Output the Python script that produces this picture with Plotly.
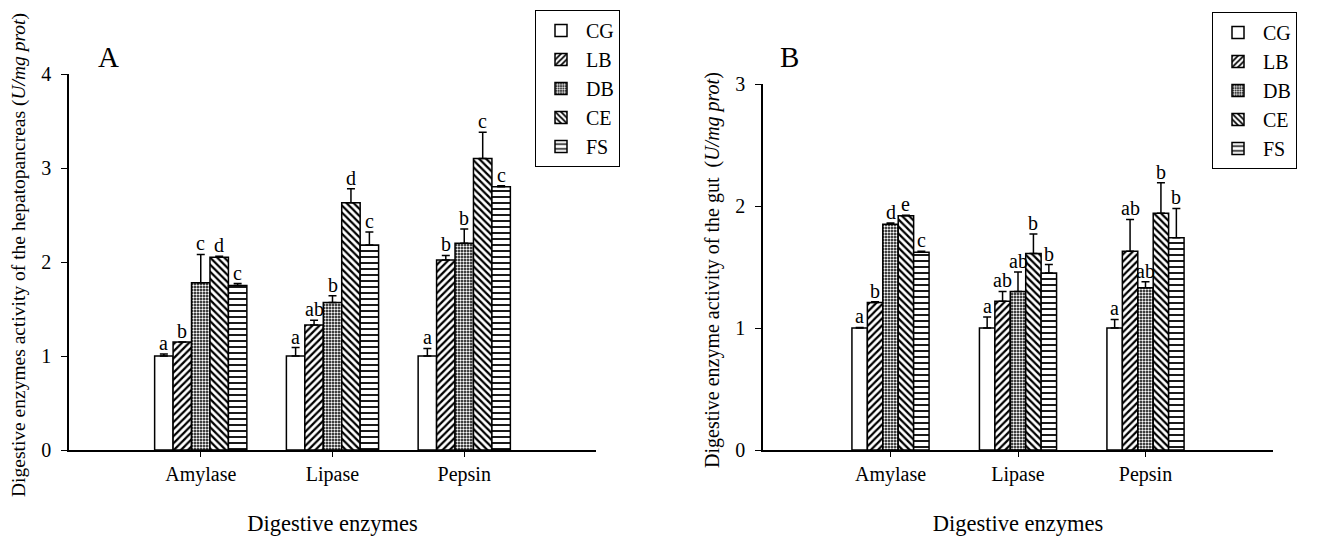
import plotly.graph_objects as go

enzymes = ["Amylase", "Lipase", "Pepsin"]
groups = ["CG", "LB", "DB", "CE", "FS"]

# Panel A: hepatopancreas
hep_means = {
    "CG": [1.00, 1.00, 1.00],
    "LB": [1.15, 1.33, 2.02],
    "DB": [1.78, 1.57, 2.20],
    "CE": [2.05, 2.63, 3.10],
    "FS": [1.75, 2.18, 2.80],
}
hep_err = {
    "CG": [0.02, 0.09, 0.08],
    "LB": [0.00, 0.05, 0.05],
    "DB": [0.30, 0.07, 0.15],
    "CE": [0.01, 0.15, 0.28],
    "FS": [0.02, 0.14, 0.01],
}
hep_letters = {
    "CG": ["a", "a", "a"],
    "LB": ["b", "ab", "b"],
    "DB": ["c", "b", "b"],
    "CE": ["d", "d", "c"],
    "FS": ["c", "c", "c"],
}

# Panel B: gut
gut_means = {
    "CG": [1.00, 1.00, 1.00],
    "LB": [1.21, 1.22, 1.63],
    "DB": [1.85, 1.30, 1.33],
    "CE": [1.92, 1.61, 1.94],
    "FS": [1.62, 1.45, 1.74],
}
gut_err = {
    "CG": [0.005, 0.09, 0.07],
    "LB": [0.005, 0.08, 0.26],
    "DB": [0.01, 0.16, 0.05],
    "CE": [0.005, 0.16, 0.25],
    "FS": [0.01, 0.07, 0.24],
}
gut_letters = {
    "CG": ["a", "a", "a"],
    "LB": ["b", "ab", "ab"],
    "DB": ["d", "ab", "ab"],
    "CE": ["e", "b", "b"],
    "FS": ["c", "b", "b"],
}

y_title_A = "Digestive enzymes activity of the hepatopancreas (<i>U/mg prot</i>)"
y_title_B = "Digestive enzyme activity of the gut  (<i>U/mg prot</i>)"
x_title = "Digestive enzymes"

FONT = "Liberation Serif"
W, H = 1326, 536
OX, OY = 8, 8  # page body margin compensation


def px(xp):
    return (xp - OX) / W


def py(yp):
    return 1 - (yp - OY) / H


patterns = {
    "CG": dict(shape=""),
    "LB": dict(shape="/", fgcolor="black", bgcolor="white", size=5, solidity=0.45, fgopacity=1),
    "DB": dict(shape=".", fgcolor="white", bgcolor="black", size=3, solidity=0.5, fgopacity=1),
    "CE": dict(shape="\\", fgcolor="black", bgcolor="white", size=5, solidity=0.45, fgopacity=1),
    "FS": dict(shape="-", fgcolor="black", bgcolor="white", size=6, solidity=0.3, fgopacity=1),
}

fig = go.Figure()
annotations = []


def add_panel(means, errs, letters, xa, ya, legend, bw):
    for j, g in enumerate(groups):
        off = -2.5 * bw + j * bw
        fig.add_trace(go.Bar(
            x=enzymes, y=means[g], name=g,
            xaxis=xa, yaxis=ya, legend=legend,
            width=bw, offset=off,
            marker=dict(color="white", line=dict(color="black", width=1.5),
                        pattern=patterns[g]),
            error_y=dict(type="data", array=errs[g], symmetric=False,
                         arrayminus=[0] * len(enzymes),
                         color="black", thickness=1.5, width=4),
        ))
        for i in range(len(enzymes)):
            annotations.append(dict(
                x=i + off + bw / 2, y=means[g][i] + errs[g][i],
                xref=xa, yref=ya, text=letters[g][i], showarrow=False,
                yanchor="bottom", yshift=-2,
                font=dict(family=FONT, size=20, color="black"),
            ))


add_panel(hep_means, hep_err, hep_letters, "x", "y", "legend", 0.14)
add_panel(gut_means, gut_err, gut_letters, "x2", "y2", "legend2", 0.121)

axis_common = dict(showline=True, linecolor="black", linewidth=1.5,
                   showgrid=False, zeroline=False, ticks="outside",
                   tickcolor="black", tickwidth=1.2,
                   tickfont=dict(family=FONT, size=20, color="black"))

legend_common = dict(xanchor="left", yanchor="top",
                     bordercolor="black", borderwidth=1, bgcolor="white",
                     font=dict(family=FONT, size=20), tracegroupgap=0,
                     itemwidth=40)

fig.update_layout(
    width=W, height=H,
    margin=dict(l=0, r=0, t=0, b=0),
    paper_bgcolor="white", plot_bgcolor="white",
    barmode="overlay",
    font=dict(family=FONT, color="black"),
    xaxis=dict(domain=[px(69), px(596)], range=[-1, 3], anchor="y",
               ticklen=5, automargin=False,
               title=dict(text=x_title, standoff=30,
                          font=dict(family=FONT, size=22.5)),
               **axis_common),
    yaxis=dict(domain=[py(450), py(74)], range=[0, 4], anchor="x",
               tickvals=[0, 1, 2, 3, 4], ticklen=6, ticklabelstandoff=6,
               automargin=False, **axis_common),
    xaxis2=dict(domain=[px(763), px(1273)], range=[-1, 3], anchor="y2",
                ticklen=5, automargin=False,
                title=dict(text=x_title, standoff=30,
                           font=dict(family=FONT, size=22.5)),
                **axis_common),
    yaxis2=dict(domain=[py(450), py(84)], range=[0, 3], anchor="x2",
                tickvals=[0, 1, 2, 3], ticklen=6, ticklabelstandoff=6,
                automargin=False, **axis_common),
    legend=dict(x=px(535), y=py(10), **legend_common),
    legend2=dict(x=px(1212), y=py(12), **legend_common),
    annotations=annotations + [
        dict(x=px(108), y=py(57), xref="paper", yref="paper", text="A",
             xanchor="center", yanchor="middle", showarrow=False,
             font=dict(family=FONT, size=29, color="black")),
        dict(x=px(789), y=py(57), xref="paper", yref="paper", text="B",
             xanchor="center", yanchor="middle", showarrow=False,
             font=dict(family=FONT, size=29, color="black")),
        dict(x=px(19), y=py(255), xref="paper", yref="paper", text=y_title_A,
             textangle=-90, xanchor="center", yanchor="middle", showarrow=False,
             font=dict(family=FONT, size=19.5, color="black")),
        dict(x=px(712), y=py(270), xref="paper", yref="paper", text=y_title_B,
             textangle=-90, xanchor="center", yanchor="middle", showarrow=False,
             font=dict(family=FONT, size=20, color="black")),
    ],
)

fig.write_html("out.html")
